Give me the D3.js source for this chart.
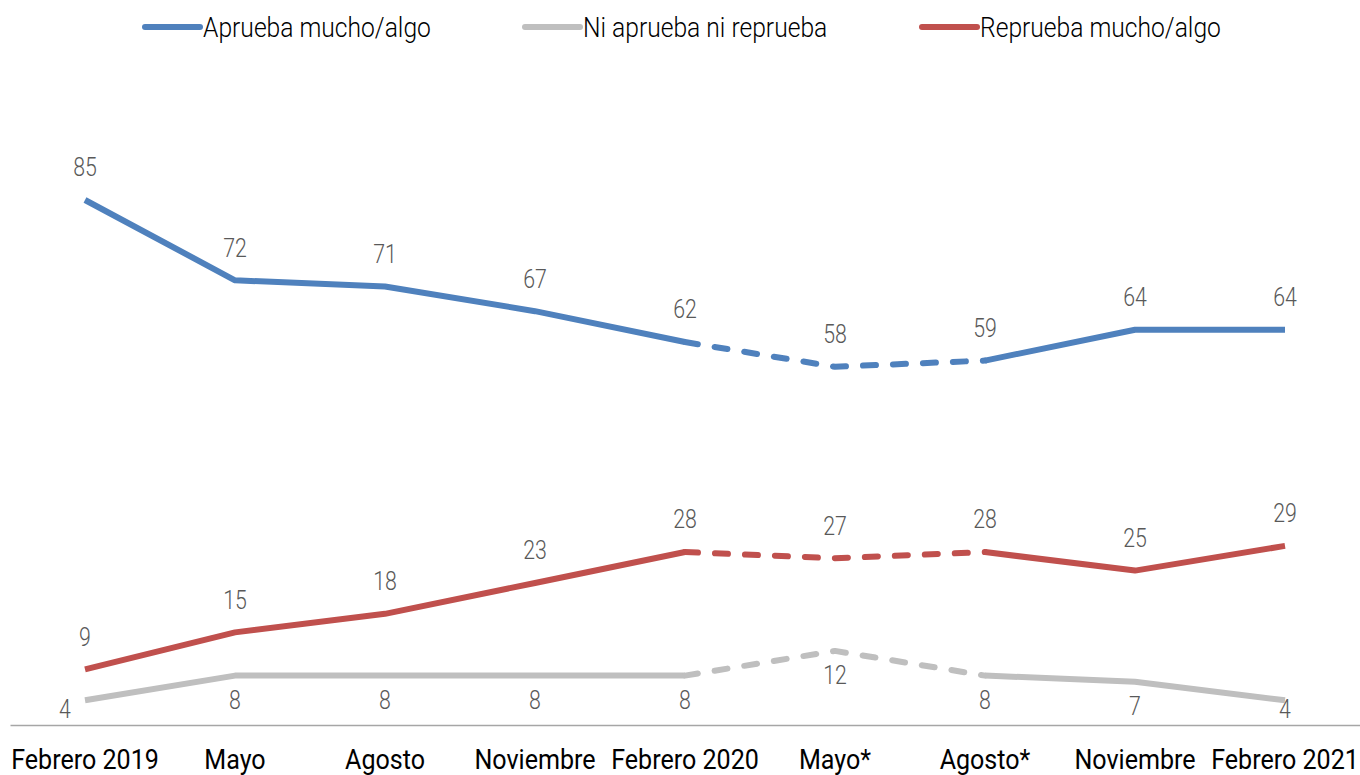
<!DOCTYPE html>
<html>
<head>
<meta charset="utf-8">
<script src="https://cdnjs.cloudflare.com/ajax/libs/d3/7.8.5/d3.min.js"></script>
<style>
  body { margin: 0; background: #fff; }
  svg { display: block; }
  text { font-family: Roboto, "Noto Sans", sans-serif; }
</style>
</head>
<body>
<svg width="1360" height="775"></svg>
<script>
var months = ["Febrero 2019", "Mayo", "Agosto", "Noviembre", "Febrero 2020", "Mayo*", "Agosto*", "Noviembre", "Febrero 2021"];
var aprueba = [85, 72, 71, 67, 62, 58, 59, 64, 64];
var ni = [4, 8, 8, 8, 8, 12, 8, 7, 4];
var reprueba = [9, 15, 18, 23, 28, 27, 28, 25, 29];
// periods drawn with a dashed line (index range)
var dashedFrom = 4, dashedTo = 6;

var series = [
  {name: "Aprueba mucho/algo", values: aprueba, color: "#4F81BD", labelDy: -33},
  {name: "Ni aprueba ni reprueba", values: ni, color: "#BFBFBF", labelDy: 24},
  {name: "Reprueba mucho/algo", values: reprueba, color: "#C0504D", labelDy: -33}
];

var svg = d3.select("svg");

var x = d3.scaleBand()
    .domain(d3.range(months.length))
    .range([10, 1360]);

var y = d3.scaleLinear()
    .domain([0, 85])
    .range([725, 200]);

function cx(i) { return x(i) + x.bandwidth() / 2; }

var line = d3.line()
    .x(function(d) { return cx(d.i); })
    .y(function(d) { return y(d.v); });

// axis
var xAxis = svg.append("g")
    .attr("transform", "translate(0,725)")
    .call(d3.axisBottom(x).tickSize(0).tickFormat(function(i) { return months[i]; }));
xAxis.select(".domain").attr("stroke", "#A6A6A6").attr("stroke-width", 1.5);
xAxis.selectAll("text")
    .attr("dy", 0)
    .attr("y", 44)
    .attr("transform", "scale(0.88,1)")
    .attr("fill", "#000")
    .style("font-size", "28.5px");

series.forEach(function(s, k) {
  var pts = s.values.map(function(v, i) { return {i: i, v: v}; });
  var g = svg.append("g");
  [[0, dashedFrom, false], [dashedFrom, dashedTo, true], [dashedTo, pts.length - 1, false]].forEach(function(seg) {
    g.append("path")
      .attr("d", line(pts.slice(seg[0], seg[1] + 1)))
      .attr("fill", "none")
      .attr("stroke", s.color)
      .attr("stroke-width", 6)
      .attr("stroke-linejoin", "round")
      .attr("stroke-linecap", seg[2] ? "round" : "butt")
      .attr("stroke-dasharray", seg[2] ? "13,17" : null);
  });

  g.selectAll("text")
    .data(pts)
    .enter().append("text")
      .attr("transform", function(d) {
        var lx = cx(d.i), ly = y(d.v) + s.labelDy;
        // the gray series' end labels sit beside the line ends
        if (k === 1 && d.i === 0) { lx -= 20; ly = y(d.v) + 8; }
        if (k === 1 && d.i === pts.length - 1) { ly = y(d.v) + 8; }
        return "translate(" + lx + "," + ly + ") scale(0.82,1)";
      })
      .attr("dy", "0.36em")
      .attr("text-anchor", "middle")
      .attr("fill", "#595959")
      .style("font-size", "26px")
      .style("font-weight", 300)
      .text(function(d) { return d.v; });
});

// legend
var legendX = [145, 525, 922];
var legend = svg.append("g")
  .selectAll("g")
  .data(series)
  .enter().append("g")
    .attr("transform", function(d, i) { return "translate(" + legendX[i] + ",27)"; });

legend.append("line")
    .attr("x1", 0).attr("x2", 55)
    .attr("stroke", function(d) { return d.color; })
    .attr("stroke-width", 6)
    .attr("stroke-linecap", "round");

legend.append("text")
    .attr("transform", "translate(58,0) scale(0.88,1)")
    .attr("dy", "0.36em")
    .style("font-size", "28px")
    .style("font-weight", 300)
    .attr("fill", "#000")
    .text(function(d) { return d.name; });
</script>
</body>
</html>
